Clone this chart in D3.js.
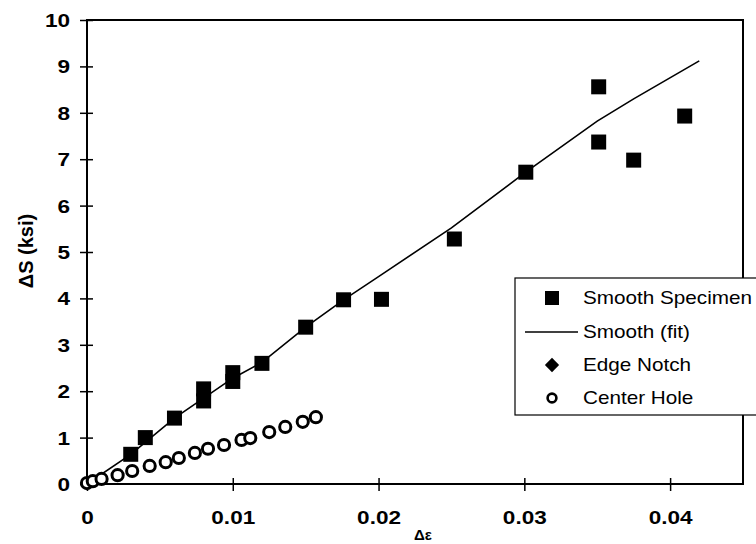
<!DOCTYPE html>
<html>
<head>
<meta charset="utf-8">
<script src="https://cdn.jsdelivr.net/npm/d3@7"></script>
<style>
  body { margin: 0; background: #fff; }
  text { font-family: "Liberation Sans", Arial, sans-serif; fill: #000; }
</style>
</head>
<body>
<svg id="chart" width="756" height="544"></svg>
<script>
// Smooth specimen: strain range vs stress range (ksi)
const smoothStrain = [0.003, 0.004, 0.006, 0.008, 0.008, 0.01, 0.01, 0.012, 0.015, 0.0176, 0.0202, 0.0252, 0.0301, 0.0351, 0.0351, 0.0375, 0.041];
const smoothStress = [0.64, 1.0, 1.42, 1.79, 2.05, 2.21, 2.4, 2.6, 3.38, 3.97, 3.98, 5.28, 6.72, 8.56, 7.37, 6.98, 7.93];

// Fitted curve through the smooth specimen data
const fitStrain = [0, 0.003, 0.006, 0.01, 0.012, 0.015, 0.0176, 0.02, 0.025, 0.03, 0.035, 0.0375, 0.042];
const fitStress = [0, 0.64, 1.42, 2.28, 2.62, 3.38, 3.97, 4.47, 5.52, 6.7, 7.82, 8.3, 9.12];

// Edge notch specimen (no points in range)
const edgeStrain = [];
const edgeStress = [];

// Center hole specimen
const holeStrain = [0, 0.0004, 0.001, 0.0021, 0.0031, 0.0043, 0.0054, 0.0063, 0.0074, 0.0083, 0.0094, 0.0106, 0.0112, 0.0125, 0.0136, 0.0148, 0.0157];
const holeStress = [0.02, 0.06, 0.11, 0.19, 0.28, 0.39, 0.47, 0.56, 0.67, 0.76, 0.84, 0.95, 0.99, 1.12, 1.23, 1.34, 1.44];

// Axis ticks
const xTickValues = [0, 0.01, 0.02, 0.03, 0.04];
const xTickLabels = ["0", "0.01", "0.02", "0.03", "0.04"];
const yTickValues = [0, 1, 2, 3, 4, 5, 6, 7, 8, 9, 10];
const yTickLabels = ["0", "1", "2", "3", "4", "5", "6", "7", "8", "9", "10"];

const legendLabels = ["Smooth Specimen", "Smooth (fit)", "Edge Notch", "Center Hole"];

const svg = d3.select("#chart");
const plot = { left: 87, right: 743, top: 20, bottom: 484 };

const x = d3.scaleLinear().domain([0, 0.045]).range([plot.left, plot.right]);
const y = d3.scaleLinear().domain([0, 10]).range([plot.bottom, plot.top]);

const wideText = 1.22;

// Plot frame
svg.append("rect")
  .attr("x", plot.left).attr("y", plot.top)
  .attr("width", plot.right - plot.left).attr("height", plot.bottom - plot.top)
  .attr("fill", "none").attr("stroke", "#000").attr("stroke-width", 2);

// X axis: ticks cross the baseline
const gx = svg.append("g")
  .attr("transform", `translate(0,${plot.bottom})`)
  .call(d3.axisBottom(x).tickValues(xTickValues)
    .tickFormat((d, i) => xTickLabels[i]).tickSize(7).tickSizeOuter(0));
gx.select(".domain").remove();
gx.selectAll(".tick line").attr("y1", -6).attr("stroke", "#000").attr("stroke-width", 1.5);
gx.selectAll(".tick text")
  .attr("y", 0).attr("dy", null)
  .attr("transform", `translate(0,39.5) scale(${wideText},1)`)
  .style("font-size", "18.5px").style("font-weight", "bold")
  .style("font-family", "'Liberation Sans', Arial, sans-serif").attr("fill", "#000");

// Y axis
const gy = svg.append("g")
  .attr("transform", `translate(${plot.left},0)`)
  .call(d3.axisLeft(y).tickValues(yTickValues)
    .tickFormat((d, i) => yTickLabels[i]).tickSize(7).tickSizeOuter(0));
gy.select(".domain").remove();
gy.selectAll(".tick line").attr("x1", 6).attr("stroke", "#000").attr("stroke-width", 1.5);
gy.selectAll(".tick text")
  .attr("x", 0).attr("dy", "0.35em")
  .attr("transform", `translate(-17,0) scale(${wideText},1)`)
  .style("font-size", "18.5px").style("font-weight", "bold")
  .style("font-family", "'Liberation Sans', Arial, sans-serif").attr("fill", "#000");

// Axis titles
svg.append("text")
  .attr("transform", "translate(33,251) rotate(-90)")
  .attr("text-anchor", "middle")
  .style("font-size", "20px").style("font-weight", "bold")
  .text("ΔS (ksi)");

svg.append("text")
  .attr("transform", "translate(423,540)")
  .attr("text-anchor", "middle")
  .style("font-size", "15px").style("font-weight", "bold")
  .text("Δε");

// Smooth specimen squares
const sq = 15;
svg.append("g").selectAll("rect")
  .data(d3.zip(smoothStrain, smoothStress))
  .join("rect")
  .attr("x", d => x(d[0]) - sq / 2).attr("y", d => y(d[1]) - sq / 2)
  .attr("width", sq).attr("height", sq)
  .attr("fill", "#000");

// Fit line
const line = d3.line().x(d => x(d[0])).y(d => y(d[1]));
svg.append("path")
  .datum(d3.zip(fitStrain, fitStress))
  .attr("d", line)
  .attr("fill", "none").attr("stroke", "#000").attr("stroke-width", 1.6);

// Edge notch diamonds
const diamond = d3.symbol().type(d3.symbolDiamond2).size(130);
svg.append("g").selectAll("path")
  .data(d3.zip(edgeStrain, edgeStress))
  .join("path")
  .attr("transform", d => `translate(${x(d[0])},${y(d[1])})`)
  .attr("d", diamond).attr("fill", "#000");

// Center hole open circles
svg.append("g").selectAll("circle")
  .data(d3.zip(holeStrain, holeStress))
  .join("circle")
  .attr("cx", d => x(d[0])).attr("cy", d => y(d[1]))
  .attr("r", 5.6)
  .attr("fill", "#fff").attr("stroke", "#000").attr("stroke-width", 3);

// Legend
const lg = svg.append("g");
lg.append("rect")
  .attr("x", 515).attr("y", 278).attr("width", 260).attr("height", 137)
  .attr("fill", "#fff").attr("stroke", "#000").attr("stroke-width", 1.2);

const rowY = [298, 332, 365, 398];
const markX = 552;

lg.append("rect")
  .attr("x", markX - 7).attr("y", rowY[0] - 7).attr("width", 14).attr("height", 14)
  .attr("fill", "#000");
lg.append("line")
  .attr("x1", 525).attr("x2", 578).attr("y1", rowY[1]).attr("y2", rowY[1])
  .attr("stroke", "#000").attr("stroke-width", 1.6);
lg.append("path")
  .attr("transform", `translate(${markX},${rowY[2]})`)
  .attr("d", diamond).attr("fill", "#000");
lg.append("circle")
  .attr("cx", markX).attr("cy", rowY[3]).attr("r", 4.4)
  .attr("fill", "#fff").attr("stroke", "#000").attr("stroke-width", 2.6);

lg.selectAll("text.lab")
  .data(legendLabels)
  .join("text")
  .attr("class", "lab")
  .attr("transform", (d, i) => `translate(583,${rowY[i]}) scale(1.15,1)`)
  .attr("dy", "0.35em")
  .style("font-size", "18px")
  .text(d => d);
</script>
</body>
</html>
